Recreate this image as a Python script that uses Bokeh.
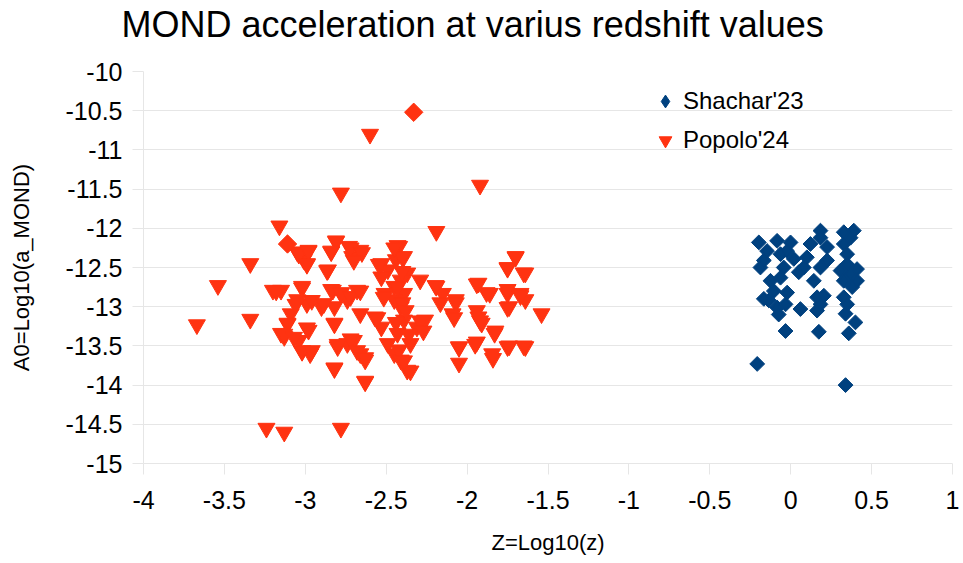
import math
from bokeh.plotting import figure
from bokeh.models import Range1d, FixedTicker, Legend, LegendItem, Title
from bokeh.embed import file_html
from bokeh.resources import INLINE

title_text = "MOND acceleration at varius redshift values"
x_label = "Z=Log10(z)"
y_label = "A0=Log10(a_MOND)"
series_names = ["Shachar'23", "Popolo'24"]
x_ticks = [-4, -3.5, -3, -2.5, -2, -1.5, -1, -0.5, 0, 0.5, 1]
y_ticks = [-15, -14.5, -14, -13.5, -13, -12.5, -12, -11.5, -11, -10.5, -10]

shachar_x = [-0.197, -0.207, 0.339, -0.032, 0.174, 0.359, 0.060, 0.40, 0.184, 0.39,
             0.328, -0.084, -0.001, -0.146, -0.187, -0.125, -0.104, -0.135, -0.084, -0.074,
             -0.022, -0.043, 0.019, -0.063, 0.10, 0.081, 0.143, 0.122, 0.184, 0.225,
             0.184, 0.225, 0.163, 0.205, 0.163, 0.184, 0.328, 0.349, 0.349, 0.37,
             0.41, 0.38, 0.328, 0.328, 0.349, 0.339, 0.308, 0.37, 0.41, -0.166,
             -0.022, 0.05, -0.063, -0.166, -0.032]
shachar_y = [-12.18, -13.73, -14.00, -13.31, -13.32, -13.34, -13.03, -13.20, -12.03, -12.03,
             -12.05, -12.16, -12.18, -12.29, -12.50, -12.67, -12.80, -12.92, -13.01, -13.10,
             -12.82, -12.50, -12.39, -12.33, -12.37, -12.50, -12.67, -12.20, -12.12, -12.24,
             -12.50, -12.41, -12.88, -12.86, -13.05, -12.97, -12.20, -12.33, -12.46, -12.58,
             -12.67, -12.75, -12.67, -12.88, -12.97, -13.09, -12.54, -12.12, -12.52, -12.41,
             -12.29, -12.56, -12.63, -12.90, -12.97]

popolo_x = [-2.60, -2.78, -1.92, -3.16, -2.19, -3.34, -3.54, -3.67, -3.34, -3.24,
            -3.13, -2.78, -1.54,
            -3.05, -2.98, -3.01, -2.99, -2.81, -2.84, -2.73, -2.66, -2.71, -2.86,
            -2.53, -2.42, -2.39, -2.49, -2.29, -2.19, -2.15, -2.07, -2.09, -1.93,
            -1.86, -1.75, -1.70, -1.64, -1.75, -1.67, -1.64, -1.74, -1.93, -1.91,
            -1.83, -1.94, -1.84, -1.75, -1.64, -2.05, -2.05, -3.20, -3.15, -3.02,
            -3.05, -2.99, -2.90, -3.09, -3.11, -3.15, -3.13, -3.04, -2.98, -2.97,
            -3.02, -2.83, -2.78, -2.74, -2.82, -2.82, -2.68, -2.66, -2.80, -2.74,
            -2.70, -2.66, -2.63, -2.82, -2.63, -2.57, -2.53, -2.49, -2.45, -2.41,
            -2.37, -2.45, -2.39, -2.41, -2.39, -2.43, -2.35, -2.31, -2.26, -2.37,
            -2.41, -2.45, -2.51, -2.53,
            -2.44, -2.40, -2.43, -2.40, -2.38, -2.44, -2.36, -2.42,
            -2.43, -2.40, -2.195, -2.165, -2.07, -2.08, -1.94, -1.88, -1.94, -1.92,
            -1.825, -1.95, -1.845, -1.74, -1.65, -2.05, -1.70, -1.75, -1.65, -1.75,
            -1.67, -1.75, -2.35, -2.39, -2.29, -2.27,
            -3.04, -2.98, -2.99, -2.81, -2.84, -2.72, -2.65, -2.70, -2.865, -2.545,
            -2.45, -3.18, -3.02, -3.06, -2.96, -2.84, -2.78, -2.72, -2.66, -2.885,
            -3.11, -3.13, -3.07, -2.99, -3.02, -2.96, -2.82, -2.80, -2.72, -2.68,
            -2.63, -2.82, -2.63, -2.555, -2.515]
popolo_y = [-10.80, -11.55, -11.45, -11.97, -12.04, -12.45, -12.73, -13.23, -13.16, -14.55,
            -14.60, -14.55, -13.09,
            -12.30, -12.28, -12.40, -12.45, -12.17, -12.30, -12.23, -12.28, -12.36, -12.53,
            -12.45, -12.23, -12.36, -12.53, -12.66, -12.74, -12.83, -12.91, -13.09, -12.70,
            -12.83, -12.51, -12.36, -12.57, -12.83, -12.83, -12.91, -13.00, -13.13, -13.21,
            -13.34, -13.45, -13.66, -13.51, -13.51, -13.51, -13.72, -12.79, -12.79, -12.74,
            -12.91, -12.96, -13.00, -13.09, -13.21, -13.34, -13.38, -13.43, -13.30, -13.60,
            -13.57, -12.79, -12.83, -12.91, -13.00, -13.21, -12.79, -13.09, -13.51, -13.47,
            -13.43, -13.60, -13.68, -13.79, -13.96, -13.13, -13.26, -13.47, -13.60, -13.68,
            -13.81, -12.74, -12.83, -13.00, -13.17, -13.34, -13.47, -13.26, -13.17, -12.57,
            -12.66, -12.91, -12.83, -12.62,
            -12.40, -12.55, -12.75, -12.95, -13.05, -13.20, -13.35, -13.55,
            -12.22, -12.37, -12.73, -12.95, -12.95, -13.14, -12.71, -12.82, -13.05, -13.18,
            -13.31, -13.48, -13.60, -13.50, -13.50, -13.52, -12.37, -12.50, -12.57, -12.78,
            -12.86, -13.01, -13.82, -13.69, -13.18, -13.31,
            -12.33, -12.29, -12.46, -12.16, -12.29, -12.25, -12.31, -12.41, -12.54, -12.46,
            -12.25, -12.80, -12.76, -12.97, -12.92, -12.78, -12.82, -12.87, -12.80, -12.96,
            -13.22, -13.35, -13.39, -13.27, -13.56, -13.56, -13.22, -13.48, -13.41, -13.56,
            -13.65, -13.78, -13.95, -13.14, -12.88]
popolo_extra_x = [-2.33, -3.11]
popolo_extra_y = [-10.52, -12.20]

blue = "#00417f"
red = "#ff3311"
grid = "#e6e6e6"
font = "Liberation Sans"

p = figure(width=960, height=562, x_range=Range1d(-4, 1), y_range=Range1d(-15, -10),
           output_backend="svg", toolbar_location=None,
           min_border_left=143, min_border_right=8, min_border_top=71, min_border_bottom=99)

# empty spacer panel between the frame and the title (keeps the title at the top)
p.add_layout(Title(text=" ", text_font=font, text_font_size="10px", standoff=14), "above")

p.title.text = title_text
p.title.text_font = font
p.title.text_font_size = "36px"
p.title.text_font_style = "normal"
p.title.text_color = "black"
p.title.align = "left"
p.title.offset = -22
p.title.standoff = 0

p.outline_line_color = None
p.xgrid.visible = False
p.ygrid.grid_line_color = grid
p.ygrid.ticker = FixedTicker(ticks=y_ticks)

for ax, ticks in ((p.xaxis[0], x_ticks), (p.yaxis[0], y_ticks)):
    ax.ticker = FixedTicker(ticks=ticks)
    ax.major_label_overrides = {t: f"{t:g}" for t in ticks}
    ax.axis_line_color = grid
    ax.major_tick_line_color = grid
    ax.major_tick_out = 11
    ax.major_tick_in = 0
    ax.minor_tick_line_color = None
    ax.major_label_text_font = font
    ax.major_label_text_font_size = "25px"
    ax.major_label_text_color = "black"
    ax.axis_label_text_font = font
    ax.axis_label_text_font_size = "22px"
    ax.axis_label_text_font_style = "normal"
    ax.axis_label_text_color = "black"

p.xaxis.axis_label = x_label
p.yaxis.axis_label = y_label
p.xaxis.major_label_standoff = 16
p.yaxis.major_label_standoff = 10
p.xaxis.axis_label_standoff = 18
p.yaxis.axis_label_standoff = 29

r1 = p.scatter(shachar_x, shachar_y, marker="square", angle=math.pi / 4, size=10.5,
               fill_color=blue, line_color=blue)
# same points drawn as plain diamonds (hidden inside the rotated squares); used for the key
r1_key = p.scatter(shachar_x, shachar_y, marker="diamond", size=12,
                   fill_color=blue, line_color=blue)
r2 = p.scatter(popolo_x, popolo_y, marker="inverted_triangle", size=17,
               fill_color=red, line_color=red)
p.scatter(popolo_extra_x, popolo_extra_y, marker="square", angle=math.pi / 4, size=13,
          fill_color=red, line_color=red)

legend = Legend(items=[LegendItem(label=series_names[0], renderers=[r1_key]),
                       LegendItem(label=series_names[1], renderers=[r2])],
                location=(506, 392 - 14 - 71), padding=0, margin=0, spacing=7,
                glyph_width=32, glyph_height=32, label_height=32, label_standoff=2,
                label_text_font=font, label_text_font_size="24px", label_text_color="black",
                border_line_color=None, background_fill_alpha=0)
p.add_layout(legend)

open("out.html", "w").write(file_html(p, INLINE))
